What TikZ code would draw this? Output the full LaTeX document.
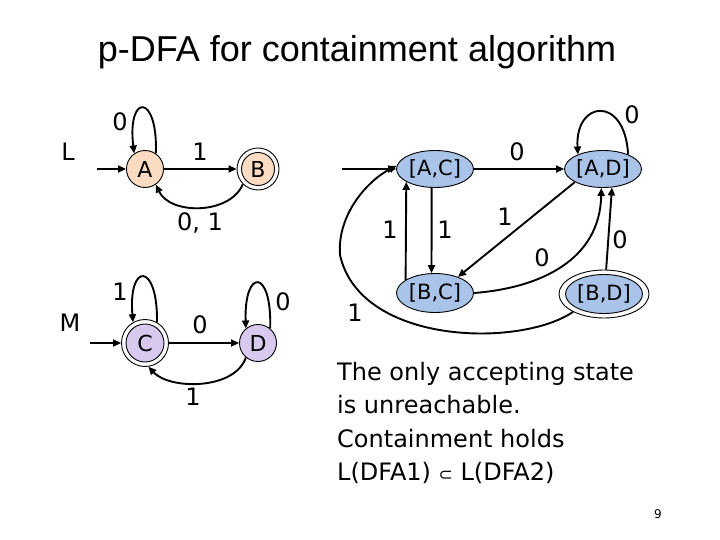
\documentclass[tikz,border=0pt]{standalone}
\usepackage{fontspec}
\setmainfont{DejaVu Sans}
\newfontfamily\titlefont{Liberation Sans}
\usetikzlibrary{shapes.geometric,arrows.meta}
\definecolor{peach}{RGB}{251,220,195}
\definecolor{lav}{RGB}{216,202,238}
\definecolor{pblue}{RGB}{169,196,232}
\begin{document}
\begin{tikzpicture}[x=1pt,y=-1pt,
  every node/.style={inner sep=0pt},
  st/.style={circle,draw,line width=0.9pt,minimum size=37pt,font=\fontsize{22}{26}\selectfont},
  ring/.style={circle,draw,line width=0.9pt},
  pst/.style={ellipse,draw,line width=0.9pt,fill=pblue,minimum width=77pt,minimum height=37pt,font=\fontsize{21}{25}\selectfont},
  lab/.style={font=\fontsize{24}{28}\selectfont},
  big/.style={font=\fontsize{24}{28}\selectfont},
  txt/.style={anchor=base west,font=\fontsize{24}{28}\selectfont},
  e/.style={line width=1.9pt,-{Triangle[length=8pt,width=7pt]}}
]
\useasboundingbox[fill=white] (0,0) rectangle (720,540);

% title
\node[font=\titlefont\fontsize{36}{40}\selectfont] (title) at (357,52) {p-DFA for containment algorithm};

% DFA 1
\node[big] (lL) at (68,152) {L};
\coordinate (Lin) at (97,169);
\node[st,fill=peach] (A) at (145,169) {A};
\node[ring,minimum size=42pt] (Bo) at (258,169) {};
\node[st,fill=peach,minimum size=33pt] (B) at (258,169) {B};
\draw[e] (Lin) -- (A);
\draw[e] (A) -- (Bo);
\draw[e] (A.55) .. controls (158,93) and (127,93) .. (A.125);
\draw[e] (Bo.225) .. controls (230,215) and (170,215) .. (A.305);
\node[lab] (l1) at (120,122) {0};
\node[lab] (l2) at (200,152) {1};
\node[lab] (l3) at (200,223) {0, 1};

% DFA 2
\node[big] (lM) at (70,323) {M};
\coordinate (Min) at (90,343);
\node[ring,minimum size=47pt] (Co) at (145,343) {};
\node[st,fill=lav,minimum size=38pt] (C) at (145,343) {C};
\node[st,fill=lav] (D) at (258,343) {D};
\draw[e] (Min) -- (Co);
\draw[e] (Co.60) .. controls (158,262) and (128,262) .. (Co.120);
\draw[e] (Co) -- (D);
\draw[e] (D.50) .. controls (272,268) and (244,268) .. (D.130);
\draw[e] (D.230) .. controls (235,390) and (170,390) .. (Co.278);
\node[lab] (l4) at (120,292) {1};
\node[lab] (l5) at (200,325) {0};
\node[lab] (l6) at (283,302) {0};
\node[lab] (l7) at (193,397) {1};

% product DFA
\coordinate (ACin) at (342,169);
\node[pst] (AC) at (435,169) {[A,C]};
\node[pst] (AD) at (603,169) {[A,D]};
\node[pst,minimum height=39pt] (BC) at (435,293) {[B,C]};
\node[ellipse,draw,line width=0.9pt,minimum width=90pt,minimum height=48pt] (BDo) at (604,294) {};
\node[pst,minimum height=39pt] (BD) at (604,294) {[B,D]};
\draw[e] (ACin) -- (AC);
\draw[e] (AC) -- (AD);
\draw[e] (AD.30) .. controls (625,95) and (575,100) .. (AD.150);
\draw[e] (BC.156) -- (AC.204);
\draw[e] (AC.260) -- (BC.100);
\draw[e] (AD.205) -- (BC.35);
\draw[e] (BC.east) .. controls (540,288) and (600,260) .. (AD.265);
\draw[e] (BDo.85) -- (AD.296);
\draw[e] (BDo.210) .. controls (520,348) and (360,345) .. (340,255) .. controls (337,215) and (367,181) .. (AC.175);
\node[lab] (m1) at (517,152) {0};
\node[lab] (m2) at (632,115) {0};
\node[lab] (m3) at (390,230) {1};
\node[lab] (m4) at (445,230) {1};
\node[lab] (m5) at (505,217) {1};
\node[lab] (m6) at (542,258) {0};
\node[lab] (m7) at (620,240) {0};
\node[lab] (m8) at (355,313) {1};

% text
\node[txt] (t1) at (337,380) {The only accepting state};
\node[txt] (t2) at (337,413) {is unreachable.};
\node[txt] (t3) at (337,447) {Containment holds};
\node[txt] (t4) at (337,480) {L(DFA1) {\fontsize{17}{20}\selectfont ⊂} L(DFA2)};
\node[font=\fontsize{12}{14}\selectfont] (pg) at (658,514) {9};
\end{tikzpicture}
\end{document}
